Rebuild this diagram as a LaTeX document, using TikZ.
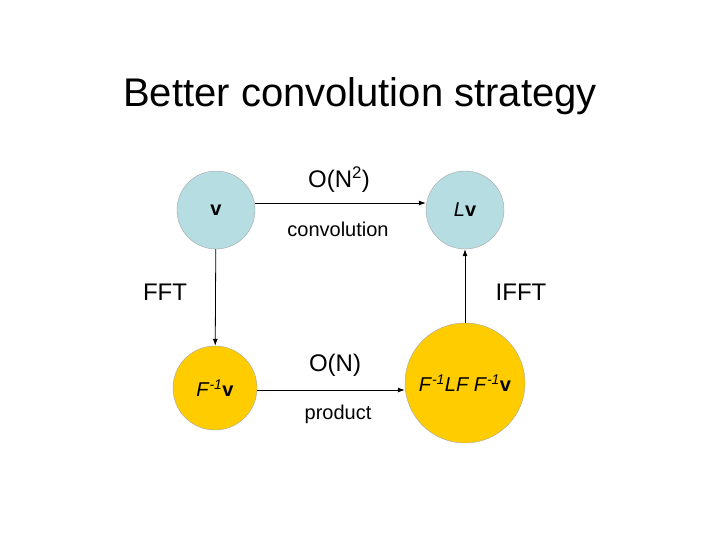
\documentclass[tikz,border=0pt]{standalone}
\usepackage{fontspec}
\setmainfont{Liberation Sans}
\usetikzlibrary{arrows.meta}
\begin{document}
\begin{tikzpicture}[x=1pt,y=-1pt,
  blue/.style={circle,draw=gray!70,fill={rgb,255:red,182;green,221;blue,226},minimum size=78pt,inner sep=0pt,font=\fontsize{20}{22}\selectfont},
  gold/.style={circle,draw=gray!70,fill={rgb,255:red,255;green,204;blue,0},inner sep=0pt,font=\fontsize{20}{22}\selectfont},
  arr/.style={-{Latex[length=7pt,width=5pt]},line width=0.8pt},
  lbl/.style={font=\fontsize{24}{26}\selectfont},
  slbl/.style={font=\fontsize{20}{22}\selectfont}]
\useasboundingbox (0,0) rectangle (720,540);
\node[font=\fontsize{40}{44}\selectfont] (t) at (360,96) {Better convolution strategy};
\node[blue] (v) at (216,210) {\textbf{v}};
\node[blue] (lv) at (465,210) {\textit{L}\textbf{v}};
\node[gold,minimum size=84pt] (fv) at (215,388) {\textit{F}\textsuperscript{\textit{-1}}\textbf{v}};
\node[gold,minimum size=120pt] (big) at (465,383) {\textit{F}\textsuperscript{\textit{-1}}\textit{LF F}\textsuperscript{\textit{-1}}\textbf{v}};
\draw[arr] (v.east |- 0,203) coordinate (a1) -- (lv.west |- 0,203) coordinate (a2);
\draw[arr] (v) -- (fv);
\draw[arr] (big) -- (lv);
\draw[arr] (fv.east |- 0,390) coordinate (b1) -- (big.west |- 0,390) coordinate (b2);
\node[lbl] (on2) at (339,180) {O(N\textsuperscript{2})};
\node[slbl] (conv) at (338,229) {convolution};
\node[lbl] (fft) at (165,292) {FFT};
\node[lbl] (ifft) at (521,292) {IFFT};
\node[lbl] (on) at (335,365) {O(N)};
\node[slbl] (prod) at (338,414) {product};
\end{tikzpicture}
\end{document}
